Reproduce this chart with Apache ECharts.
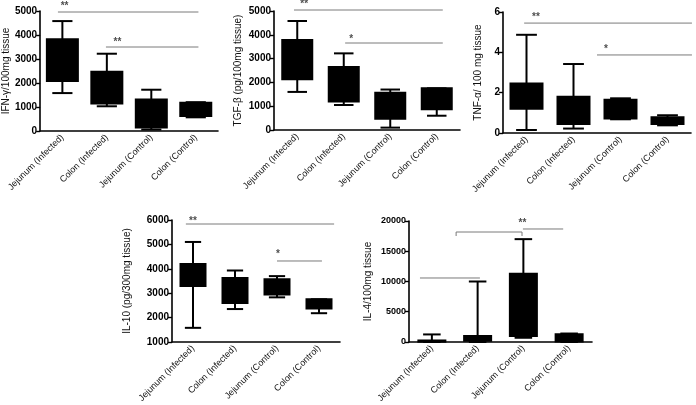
<!DOCTYPE html>
<html><head><meta charset="utf-8">
<script src="https://cdn.jsdelivr.net/npm/echarts@6/dist/echarts.min.js"></script>
<style>html,body{margin:0;padding:0;background:#fff}#c{width:696px;height:405px}</style>
</head><body><div id="c"></div>
<script>
// ---- data ----
const categories = ['Jejunum (Infected)', 'Colon (Infected)', 'Jejunum (Control)', 'Colon (Control)'];
// box data: [min, Q1, median, Q3, max]
const ifnBoxes = [[1580, 2080, 2900, 3820, 4580], [1030, 1150, 1800, 2470, 3220], [60, 150, 700, 1310, 1720], [570, 620, 900, 1180, 1200]];
const tgfBoxes = [[1600, 2130, 2900, 3780, 4580], [1050, 1200, 1900, 2650, 3220], [100, 470, 1000, 1570, 1700], [600, 870, 1300, 1750, 1750]];
const tnfBoxes = [[0.15, 1.2, 1.8, 2.45, 4.87], [0.22, 0.45, 1.1, 1.8, 3.42], [0.68, 0.72, 1.2, 1.65, 1.72], [0.38, 0.45, 0.6, 0.78, 0.88]];
const il10Boxes = [[1580, 3300, 3750, 4200, 5100], [2350, 2600, 3100, 3620, 3930], [2830, 2950, 3250, 3570, 3700], [2180, 2370, 2550, 2750, 2750]];
const il4Boxes = [[0, 50, 150, 250, 1250], [0, 200, 500, 1000, 10000], [700, 1000, 5000, 11300, 17000], [0, 100, 700, 1300, 1400]];
const yNames = ['IFN-\u03b3/100mg tissue', 'TGF-\u03b2 (pg/100mg tissue)', 'TNF-\u03b1/ 100 mg tissue', 'IL-10 (pg/300mg tissue)', 'IL-4/100mg tissue'];
const yMin = [0, 0, 0, 1000, 0];
const yMax = [5000, 5000, 6, 6000, 20000];
const yInterval = [1000, 1000, 2, 1000, 5000];
// significance lines: segments of [catPos, value] (category i centred at i+0.5)
const sigLines = [
  [[[0.40, 4958], [3.56, 4958]], [[1.48, 3500], [3.56, 3500]]],
  [[[0.43, 5042], [3.63, 5042]], [[1.53, 3655], [3.63, 3655]]],
  [[[0.45, 5.45], [4.02, 5.45]], [[2.0, 3.87], [4.02, 3.87]]],
  [[[0.33, 5836], [3.86, 5836]], [[2.5, 4320], [3.57, 4320]]],
  [[[0.24, 10580], [1.55, 10580]], [[1.03, 17520], [1.03, 18180], [2.47, 18180], [2.47, 17520]], [[2.49, 18680], [3.37, 18680]]]
];
const sigStars = [
  [[0.55, 5180, '**'], [1.74, 3708, '**']],
  [[0.65, 5265, '**'], [1.66, 3824, '*']],
  [[0.70, 5.75, '**'], [2.19, 4.13, '*']],
  [[0.50, 5947, '**'], [2.52, 4577, '*']],
  [[2.48, 19670, '**']]
];
const allBoxes = [ifnBoxes, tgfBoxes, tnfBoxes, il10Boxes, il4Boxes];

// ---- layout ----
const grids = [
  {left: 37, top: 11, width: 181, height: 120},
  {left: 274, top: 11, width: 186, height: 119},
  {left: 503, top: 12, width: 188, height: 121},
  {left: 172, top: 220, width: 168, height: 122},
  {left: 409, top: 221, width: 183, height: 121}
];
const boxW = [31, 30, 32, 25, 27];
const capRatio = 0.65;
const nameGaps = [29, 31, 20, 40, 36];
const tickFont = [10, 10, 10, 10, 9];
const FONT = 'Liberation Sans, Arial, sans-serif';

function boxRenderer(bw) {
  return function (params, api) {
    const c = api.value(0);
    const pMin = api.coord([c, api.value(1)]);
    const pQ1 = api.coord([c, api.value(2)]);
    const pQ3 = api.coord([c, api.value(4)]);
    const pMax = api.coord([c, api.value(5)]);
    const x = pMin[0];
    const hw = bw / 2, cw = bw * capRatio / 2;
    const ls = {stroke: '#000', lineWidth: 2};
    return {
      type: 'group',
      children: [
        {type: 'line', shape: {x1: x, y1: pMax[1], x2: x, y2: pMin[1]}, style: ls},
        {type: 'line', shape: {x1: x - cw, y1: pMax[1], x2: x + cw, y2: pMax[1]}, style: ls},
        {type: 'line', shape: {x1: x - cw, y1: pMin[1], x2: x + cw, y2: pMin[1]}, style: ls},
        {type: 'rect', shape: {x: x - hw, y: pQ3[1], width: bw, height: Math.max(pQ1[1] - pQ3[1], 0)},
          style: {fill: '#000', stroke: '#000', lineWidth: 2}}
      ]
    };
  };
}

const option = {
  animation: false,
  grid: grids,
  xAxis: [], yAxis: [], series: []
};
grids.forEach((g, i) => {
  option.xAxis.push({
    type: 'category', gridIndex: i, data: categories, boundaryGap: true,
    axisLine: {lineStyle: {color: '#000', width: 1.6}},
    axisTick: {alignWithLabel: true, length: 4, lineStyle: {color: '#000', width: 1.4}},
    axisLabel: {rotate: 45, interval: 0, fontSize: 9, color: '#111', fontFamily: FONT, margin: 5}
  });
  option.xAxis.push({
    type: 'value', gridIndex: i, min: 0, max: 4, show: false
  });
  option.yAxis.push({
    type: 'value', gridIndex: i, min: yMin[i], max: yMax[i], interval: yInterval[i],
    name: yNames[i], nameLocation: 'middle', nameGap: nameGaps[i], nameRotate: 90,
    nameTextStyle: {fontSize: 10, color: '#111', fontFamily: FONT},
    splitLine: {show: false},
    axisLine: {show: true, lineStyle: {color: '#000', width: 1.6}},
    axisTick: {show: true, length: 4, lineStyle: {color: '#000', width: 1.4}},
    axisLabel: {fontSize: tickFont[i], fontWeight: 'bold', color: '#000', fontFamily: FONT, margin: 3,
      formatter: v => String(v)}
  });
  option.series.push({
    type: 'custom', xAxisIndex: 2 * i, yAxisIndex: i,
    renderItem: boxRenderer(boxW[i]),
    encode: {x: 0, y: [1, 2, 3, 4, 5]},
    data: allBoxes[i].map((b, k) => [k].concat(b))
  });
  sigLines[i].forEach(seg => {
    option.series.push({
      type: 'line', xAxisIndex: 2 * i + 1, yAxisIndex: i, data: seg,
      symbol: 'none', clip: false, silent: true,
      lineStyle: {color: '#7a7a7a', width: 1}
    });
  });
  option.series.push({
    type: 'scatter', xAxisIndex: 2 * i + 1, yAxisIndex: i, symbolSize: 0, clip: false, silent: true,
    data: sigStars[i].map(s => ({value: [s[0], s[1]], label: {formatter: s[2]}})),
    label: {show: true, position: 'inside', fontSize: 10, fontWeight: 'bold', color: '#222', fontFamily: FONT}
  });
});
const chart = echarts.init(document.getElementById('c'), null, {renderer: 'canvas'});
chart.setOption(option);
</script></body></html>
